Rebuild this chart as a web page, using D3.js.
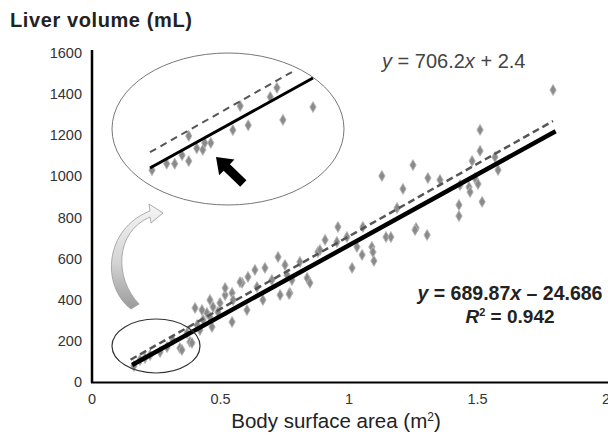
<!DOCTYPE html>
<html>
<head>
<meta charset="utf-8">
<script src="https://cdn.jsdelivr.net/npm/d3@7"></script>
<style>
body{margin:0;background:#fff}
text{font-family:"Liberation Sans",Arial,sans-serif}
</style>
</head>
<body>
<svg id="chart" width="608" height="440"></svg>
<script>
// body surface area (m2) and liver volume (mL)
var bsa = [1.794,1.510,1.510,1.479,1.568,1.580,1.490,1.502,1.467,1.471,1.432,1.518,1.428,1.428,
  1.249,1.128,1.307,1.210,1.354,0.957,1.054,1.187,1.261,1.304,1.144,1.163,1.031,1.089,1.093,1.051,
  1.097,1.012,0.724,0.751,0.809,0.879,0.953,0.992,0.607,0.584,0.642,0.700,0.759,0.778,0.837,0.848,
  0.770,0.732,0.665,0.545,0.549,0.603,0.498,0.471,0.490,0.447,0.545,0.432,0.467,0.428,0.887,1.257,
  0.767,0.518,0.381,0.342,0.370,0.315,0.409,0.420,0.459,0.187,0.226,0.265,0.292,0.350,0.389,0.163,
  0.206,0.634,0.673,0.576,0.518,0.459,0.401,0.907]
var vol = [1420,1226,1124,1075,1094,1031,992,963,948,924,958,876,861,807,
  1055,1002,992,939,983,754,754,846,749,715,705,705,657,657,632,618,
  589,555,608,569,584,632,681,705,511,482,462,496,520,496,506,482,
  433,423,399,433,399,350,384,365,340,336,292,302,268,350,642,739,
  428,423,195,165,238,204,277,253,316,107,131,146,170,156,190,78,
  117,545,555,486,457,399,360,691]

// points shown magnified inside the big ellipse
var zoomBsa = [0.159,0.181,0.193,0.214,0.204,0.226,0.235,0.238,0.247,0.214,0.280,0.303,0.291,0.336,0.346,0.355,0.400]
var zoomVol = [79,91,91,96,107,120,117,130,130,143,154,163,199,216,233,173,197]

var xTicks = [0, 0.5, 1, 1.5, 2]
var xTickLabels = ["0", "0.5", "1", "1.5", "2"]
var yTicks = [0, 200, 400, 600, 800, 1000, 1200, 1400, 1600]

// fitted lines: slope, intercept, and the x span drawn
var solidFit = [689.87, -24.686]
var solidSpan = [0.156, 1.804]
var dashedFit = [706.2, 2.4]
var dashedSpan = [0.15, 1.794]
var zoomSolidSpan = [0.156, 0.40]
var zoomDashedSpan = [0.156, 0.369]

var svg = d3.select("#chart")

var x = d3.scaleLinear().domain([0, 2]).range([92, 606])
var y = d3.scaleLinear().domain([0, 1600]).range([382, 53])

// magnified view inside the big ellipse
var xi = d3.scaleLinear().domain([0.156, 0.40]).range([150, 313])
var yi = d3.scaleLinear().domain([0, 300]).range([212.4, 52])

function fitLine(fit, span, sx, sy) {
  return span.map(function(v) { return [sx(v), sy(fit[0] * v + fit[1])] })
}

// axes
svg.append("line").attr("x1", 92).attr("x2", 92).attr("y1", 50).attr("y2", 383)
  .attr("stroke", "#000").attr("stroke-width", 2.5)
svg.append("line").attr("x1", 91).attr("x2", 608).attr("y1", 382.5).attr("y2", 382.5)
  .attr("stroke", "#000").attr("stroke-width", 2)

svg.selectAll(".ytick").data(yTicks).enter().append("text")
  .attr("x", 82).attr("y", function(d) { return y(d) + 5 })
  .attr("text-anchor", "end").attr("font-size", 14.5).attr("fill", "#333")
  .text(function(d) { return d })

svg.selectAll(".xtick").data(xTicks).enter().append("text")
  .attr("x", function(d) { return x(d) }).attr("y", 404)
  .attr("text-anchor", "middle").attr("font-size", 14.5).attr("fill", "#333")
  .text(function(d, i) { return xTickLabels[i] })

svg.append("text").attr("x", 10).attr("y", 27).attr("font-size", 20).attr("font-weight", "bold")
  .attr("letter-spacing", 0.6).attr("fill", "#222").text("Liver volume (mL)")

var xl = svg.append("text").attr("x", 336).attr("y", 428).attr("text-anchor", "middle")
  .attr("font-size", 20.5).attr("fill", "#222")
xl.append("tspan").text("Body surface area (m")
xl.append("tspan").attr("font-size", 12).attr("dy", -7).text("2")
xl.append("tspan").attr("dy", 7).text(")")

// scatter
var diamond = d3.symbol().type(d3.symbolDiamond).size(34)
svg.selectAll(".pt").data(bsa).enter().append("path")
  .attr("d", diamond)
  .attr("transform", function(d, i) { return "translate(" + x(d) + "," + y(vol[i]) + ")" })
  .attr("fill", "#8a8a8a").attr("stroke", "#b5b5b5").attr("stroke-width", 1)

// regression lines
var line = d3.line()
svg.append("path").attr("d", line(fitLine(dashedFit, dashedSpan, x, y)))
  .attr("fill", "none").attr("stroke", "#555").attr("stroke-width", 2.5).attr("stroke-dasharray", "7 4")
svg.append("path").attr("d", line(fitLine(solidFit, solidSpan, x, y)))
  .attr("fill", "none").attr("stroke", "#000").attr("stroke-width", 4.5)

// small ellipse around the lowest points
svg.append("ellipse").attr("cx", 156).attr("cy", 346).attr("rx", 44).attr("ry", 27)
  .attr("fill", "none").attr("stroke", "#333").attr("stroke-width", 1.2)

// big ellipse with the magnified view
svg.append("ellipse").attr("cx", 228).attr("cy", 129).attr("rx", 116).attr("ry", 76)
  .attr("fill", "none").attr("stroke", "#777").attr("stroke-width", 1)

svg.selectAll(".zpt").data(zoomBsa).enter().append("path")
  .attr("d", diamond)
  .attr("transform", function(d, i) { return "translate(" + xi(d) + "," + yi(zoomVol[i]) + ")" })
  .attr("fill", "#8a8a8a").attr("stroke", "#b5b5b5").attr("stroke-width", 1)

svg.append("path").attr("d", line(fitLine(dashedFit, zoomDashedSpan, xi, yi)))
  .attr("fill", "none").attr("stroke", "#555").attr("stroke-width", 2).attr("stroke-dasharray", "7 5")
svg.append("path").attr("d", line(fitLine(solidFit, zoomSolidSpan, xi, yi)))
  .attr("fill", "none").attr("stroke", "#000").attr("stroke-width", 3)

// black arrow pointing at the fit lines
svg.append("path")
  .attr("d", "M0,0 L15,-11 L15,-4.5 L38,-4.5 L38,4.5 L15,4.5 L15,11 Z")
  .attr("transform", "translate(216,157) rotate(44)")
  .attr("fill", "#000")

// curved grey arrow from small ellipse up to the big one
var grad = svg.append("defs").append("linearGradient").attr("id", "g1")
  .attr("x1", 0).attr("y1", 0).attr("x2", 0).attr("y2", 1)
grad.append("stop").attr("offset", "0%").attr("stop-color", "#f6f6f6")
grad.append("stop").attr("offset", "55%").attr("stop-color", "#d4d4d4")
grad.append("stop").attr("offset", "100%").attr("stop-color", "#9a9a9a")
svg.append("path")
  .attr("d", "M131,309 C101,286 104,229 150,211 L149,204 L163,213 L151,223 L150,217 C115,232 114,278 139,304 Z")
  .attr("fill", "url(#g1)").attr("stroke", "#999").attr("stroke-width", 0.8)

// equations
var e1 = svg.append("text").attr("x", 382).attr("y", 68).attr("font-size", 20).attr("fill", "#444")
e1.append("tspan").attr("font-style", "italic").text("y")
e1.append("tspan").text(" = 706.2")
e1.append("tspan").attr("font-style", "italic").text("x")
e1.append("tspan").text(" + 2.4")

var e2 = svg.append("text").attr("x", 510).attr("y", 300).attr("text-anchor", "middle")
  .attr("font-size", 19.5).attr("font-weight", "bold").attr("fill", "#222")
e2.append("tspan").attr("font-style", "italic").text("y")
e2.append("tspan").text(" = 689.87")
e2.append("tspan").attr("font-style", "italic").text("x")
e2.append("tspan").text(" \u2013 24.686")

var e3 = svg.append("text").attr("x", 510).attr("y", 323).attr("text-anchor", "middle")
  .attr("font-size", 19).attr("font-weight", "bold").attr("fill", "#222")
e3.append("tspan").attr("font-style", "italic").text("R")
e3.append("tspan").attr("font-size", 11).attr("dy", -7).text("2")
e3.append("tspan").attr("dy", 7).text(" = 0.942")
</script>
</body>
</html>
